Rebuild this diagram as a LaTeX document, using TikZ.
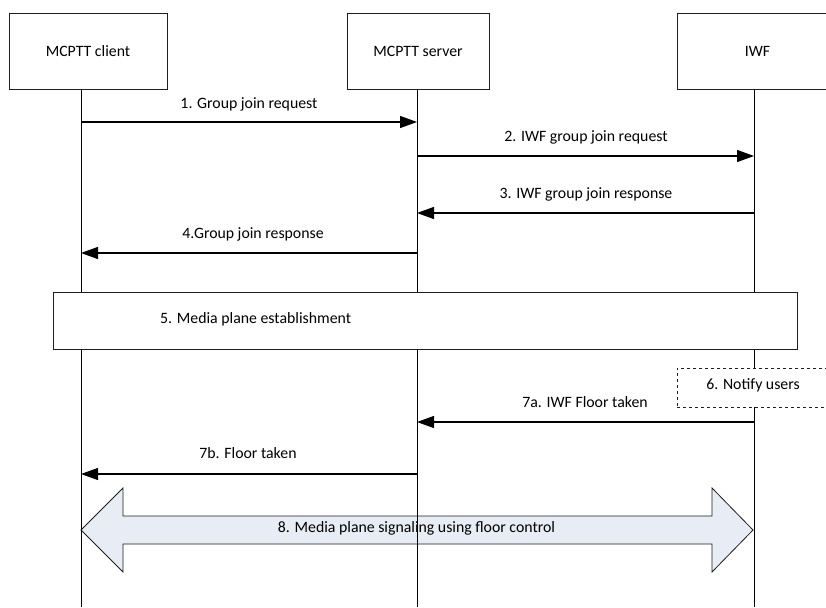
\documentclass[tikz,border=0pt]{standalone}
\usepackage{fontspec}
\setmainfont{Carlito}
\usetikzlibrary{arrows.meta}
\definecolor{blockfill}{RGB}{232,236,244}
\definecolor{edge}{RGB}{30,30,30}
\begin{document}
\begin{tikzpicture}[x=1pt,y=-1pt,
  font=\fontsize{15.8}{18}\selectfont,
  actor/.style={draw=edge, line width=0.8pt, fill=white, inner sep=0pt, minimum height=76pt},
  life/.style={line width=0.9pt, draw=black},
  msg/.style={line width=1.2pt, draw=black, -{Triangle[length=17pt,width=12pt]}},
  lbl/.style={inner sep=0pt, text height=0.68em, text depth=0.2em},
  blockarrow/.style={draw=edge, line width=0.8pt, fill=blockfill}]
\clip (0,0) rectangle (826,607);
\fill[white] (0,0) rectangle (826,607);

% participants
\node[actor, minimum width=158pt] (client) at (88,51) {MCPTT client};
\node[actor, minimum width=142pt] (server) at (418,51) {MCPTT server};
\node[actor, minimum width=161pt] (iwf) at (757.5,51) {IWF};

% lifeline ends
\coordinate (cEnd) at (81,607);
\coordinate (sEnd) at (417,607);
\coordinate (iEnd) at (754,607);

% step 8 block arrow (behind lifelines)
\draw[blockarrow] (81,530) -- (123,488) -- (123,516) -- (712,516) -- (712,488) -- (753,530)
  -- (712,572) -- (712,544) -- (123,544) -- (123,572) -- cycle;
\node[lbl] (l8) at (416.5,530) {8. Media plane signaling using floor control};

% lifelines
\draw[life] (client.south -| cEnd) -- (cEnd);
\draw[life] (server.south -| sEnd) -- (sEnd);
\draw[life] (iwf.south -| iEnd) -- (iEnd);

% message end points
\coordinate (c1) at (81,122);  \coordinate (s1) at (417,122);
\coordinate (s2) at (417,156); \coordinate (i2) at (754,156);
\coordinate (i3) at (754,213); \coordinate (s3) at (417,213);
\coordinate (s4) at (417,253); \coordinate (c4) at (81,253);
\coordinate (i7) at (754,422); \coordinate (s7) at (417,422);
\coordinate (s8) at (417,474); \coordinate (c8) at (81,474);

\draw[msg] (c1) -- (s1);
\node[lbl] (l1) at (249,106) {1. Group join request};
\draw[msg] (s2) -- (i2);
\node[lbl] (l2) at (586,139) {2. IWF group join request};
\draw[msg] (i3) -- (s3);
\node[lbl] (l3) at (586,196) {3. IWF group join response};
\draw[msg] (s4) -- (c4);
\node[lbl] (l4) at (253,236) {4.Group join response};

% step 5
\node[draw=edge, line width=0.8pt, fill=white, minimum width=744pt, minimum height=57pt, inner sep=0pt] (b5) at (425,320.5) {};
\node[lbl, anchor=west] (l5) at (160,321) {5. Media plane establishment};

% step 6
\node[draw=edge, dashed, line width=0.7pt, fill=white, minimum width=152pt, minimum height=39pt, inner sep=0pt] (b6) at (753,387.5) {};
\node[lbl] (l6) at (753,387.5) {6. Notify users};

\draw[msg] (i7) -- (s7);
\node[lbl] (l7a) at (585,405) {7a. IWF Floor taken};
\draw[msg] (s8) -- (c8);
\node[lbl] (l7b) at (248,456) {7b. Floor taken};
\end{tikzpicture}
\end{document}
